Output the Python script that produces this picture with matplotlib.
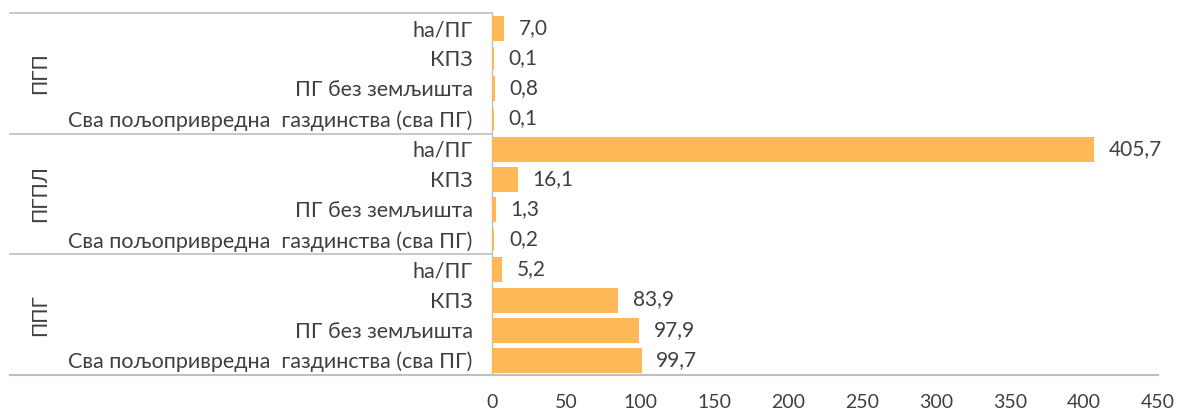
import matplotlib
matplotlib.use("Agg")
import matplotlib.pyplot as plt
from matplotlib.lines import Line2D

plt.rcParams['font.family'] = ['Lato', 'Noto Sans', 'DejaVu Sans']
TXT = '#404040'

groups = ['ППГ', 'ПГПЛ', 'ПГП']
items = ['Сва пољопривредна  газдинства (сва ПГ)', 'ПГ без земљишта', 'КПЗ', 'ha/ПГ']
values_ppg = [99.7, 97.9, 83.9, 5.2]
values_pgpl = [0.2, 1.3, 16.1, 405.7]
values_pgp = [0.1, 0.8, 0.1, 7.0]
xticks = [0, 50, 100, 150, 200, 250, 300, 350, 400, 450]

W, H = 1178, 413
fig = plt.figure(figsize=(W / 100, H / 100), dpi=100)
ax_l, ax_r, ax_b, ax_t = 492 / W, 1158 / W, 1 - 375 / H, 1 - 13 / H
ax = fig.add_axes([ax_l, ax_b, ax_r - ax_l, ax_t - ax_b])

all_vals = values_ppg + values_pgpl + values_pgp
labels = items * 3
ypos = list(range(len(all_vals)))
color = '#FDB957'
ax.barh(ypos, all_vals, height=0.73, color=color, edgecolor=color, linewidth=2.2)
for y, v in zip(ypos, all_vals):
    ax.annotate(f"{v:.1f}".replace('.', ','), (v, y), xytext=(12, 0),
                textcoords='offset points', va='center', ha='left',
                fontsize=15, color=TXT)

ax.set_xlim(0, 450)
ax.set_ylim(-0.5, len(all_vals) - 0.5)
ax.set_xticks(xticks)
ax.set_xticklabels([str(t) for t in xticks], fontsize=14, color=TXT)
ax.tick_params(axis='x', length=0, pad=14)
ax.set_yticks(ypos)
ax.set_yticklabels(labels, fontsize=15.5, color=TXT)
ax.tick_params(axis='y', length=0, pad=14)
for s in ['top', 'right', 'bottom']:
    ax.spines[s].set_visible(False)
ax.spines['left'].set_color('#BFBFBF')
ax.spines['left'].set_linewidth(1.0)
ax.spines['left'].set_zorder(0.5)

line_col = '#BFBFBF'
x0 = 10 / W
fig.add_artist(Line2D([x0, ax_r], [ax_b, ax_b], color=line_col, lw=1.5, transform=fig.transFigure))
slot = (ax_t - ax_b) / len(all_vals)
for k in range(1, 4):
    y = ax_b + slot * 4 * k
    fig.add_artist(Line2D([x0, ax_l], [y, y], color=line_col, lw=1.2, transform=fig.transFigure))
for gi, g in enumerate(groups):
    yc = ax_b + slot * (4 * gi + 2)
    fig.text(40 / W, yc, g, rotation=90, ha='center', va='center', fontsize=15, color=TXT)

fig.savefig('out.png', dpi=100)
